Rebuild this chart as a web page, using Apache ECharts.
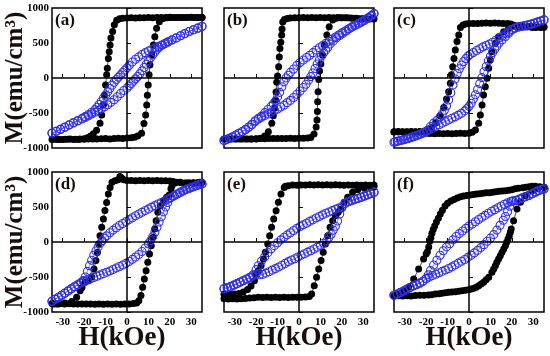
<!DOCTYPE html>
<html><head><meta charset="utf-8">
<script src="https://cdn.jsdelivr.net/npm/echarts@6/dist/echarts.min.js"></script>
<style>html,body{margin:0;padding:0;background:#fff}#c{width:550px;height:356px}</style>
</head><body><div id="c"></div><script>
// ---- data (H in kOe, M in emu/cm3) ----
const H_TICKS = [-30,-20,-10,0,10,20,30];
const PANEL_LABELS = ['(a)','(b)','(c)','(d)','(e)','(f)'];
const Y_TITLE = 'M(emu/cm³)';
const X_TITLE = 'H(kOe)';

const A_BLACK_DOWN = [[35,865],[32.5,865],[30,868],[27.5,865],[25,866],[22.5,864],[20,868],[18,866],[16,864],[14,866],[12,862],[10,864],[8,860],[6,862],[4,858],[2,860],[0,858],[-2,852],[-3.5,845],[-4.8,825],[-5.9,760],[-6.7,665],[-7.5,570],[-7.9,470],[-8.3,375],[-8.7,280],[-9.2,140],[-9.5,45],[-10,-100],[-10.6,-245],[-11,-385],[-11.8,-530],[-12.6,-645],[-14.2,-745],[-15.7,-795],[-17,-830],[-18.5,-855],[-20,-868],[-22,-872],[-24,-875],[-26.5,-872],[-29,-875],[-31.5,-878],[-34,-875]];
const A_BLACK_UP = [[-35,-880],[-32.5,-878],[-30,-880],[-27.5,-876],[-25,-880],[-22.5,-878],[-20,-876],[-18,-872],[-16,-870],[-14,-872],[-12,-868],[-10,-866],[-8,-870],[-6,-864],[-4,-862],[-2,-864],[0,-858],[2,-852],[3.5,-845],[5,-830],[6.8,-790],[7.9,-650],[8.7,-530],[9.2,-385],[9.5,-245],[9.9,-100],[10.3,45],[10.7,185],[11.5,330],[12.3,470],[13,590],[13.8,710],[15.1,805],[17,850],[19,860],[21,864],[23.5,866],[26,864],[28.5,866],[31,864],[33.5,866],[35,864]];
const A_BLUE_DOWN = [[35,735],[33,712],[31,690],[29,665],[27,635],[25,603],[23,572],[21,542],[19,512],[17.5,488],[16,468],[14.5,448],[13,428],[11.5,408],[10,386],[8.5,362],[7,335],[5.5,302],[4,268],[2.5,228],[1,180],[0,145],[-1,112],[-2,78],[-3,45],[-4,12],[-5,-22],[-6,-60],[-7,-102],[-8,-150],[-9,-198],[-10,-245],[-11,-290],[-12,-335],[-13,-378],[-14,-418],[-15,-452],[-16.5,-490],[-18,-522],[-19.5,-550],[-21,-577],[-23,-607],[-25,-637],[-27,-668],[-29,-700],[-31,-730],[-33,-758],[-35,-785]];
const A_BLUE_UP = [[-35,-790],[-33,-765],[-31,-735],[-29,-705],[-27,-673],[-25,-643],[-23,-613],[-21,-585],[-19.5,-563],[-18,-540],[-16.5,-515],[-15,-490],[-13.5,-465],[-12,-440],[-10.5,-412],[-9,-382],[-7.5,-348],[-6,-310],[-4.5,-268],[-3,-222],[-1.5,-178],[0,-145],[1,-112],[2,-78],[3,-45],[4,-12],[5,22],[6,60],[7,102],[8,150],[9,198],[10,245],[11,290],[12,333],[13,372],[14,410],[15,440],[16.5,472],[18,498],[19.5,522],[21,545],[23,573],[25,603],[27,633],[29,664],[31,690],[33,712],[35,738]];

const B_BLACK_DOWN = [[35,842],[32.5,838],[30,845],[27.5,850],[25,855],[22.5,860],[20,862],[18,864],[16,862],[14,865],[12,862],[10,864],[8,862],[6,865],[4,862],[2,864],[0,862],[-2,860],[-4,858],[-5.5,850],[-6.8,835],[-7.6,800],[-7.9,700],[-8.1,614],[-8.5,510],[-8.9,420],[-9.2,300],[-9.5,160],[-10,30],[-10.4,-60],[-10.7,-200],[-11,-315],[-11.4,-433],[-12,-540],[-12.7,-648],[-14.3,-768],[-16,-830],[-18,-860],[-20,-870],[-22,-872],[-24,-870],[-26.5,-872],[-29,-870],[-31.5,-872],[-34,-870]];
const B_BLACK_UP = [[-35,-872],[-32.5,-870],[-30,-872],[-27.5,-870],[-25,-872],[-22.5,-870],[-20,-868],[-18,-866],[-16,-868],[-14,-865],[-12,-866],[-10,-864],[-8,-866],[-6,-864],[-4,-862],[-2,-864],[0,-862],[2,-860],[4,-858],[5.5,-850],[7,-800],[8,-700],[8.4,-600],[8.6,-480],[8.7,-340],[8.9,-195],[9.2,-20],[9.6,100],[10.2,200],[11,330],[11.8,470],[13,614],[14.1,733],[15.7,829],[17.5,852],[19.5,860],[21.5,862],[24,858],[26.5,852],[29,848],[31.5,842],[34,845]];
const B_BLUE_DOWN = [[35,920],[33.5,885],[32,852],[30.5,822],[29,795],[27.5,772],[26,748],[24.5,724],[23,700],[21.5,672],[20,645],[18.5,615],[17,585],[15.5,555],[14,525],[12.5,495],[11,462],[9.5,432],[8,400],[6.5,362],[5,325],[3.5,292],[2,258],[0.5,222],[-1,180],[-2.5,128],[-4,80],[-5,40],[-6,0],[-7,-55],[-8,-125],[-9,-205],[-10,-270],[-11,-330],[-12,-370],[-13,-405],[-14.5,-450],[-16,-495],[-17.5,-545],[-19,-575],[-20.5,-610],[-22,-660],[-23.5,-700],[-25,-735],[-26.5,-765],[-28,-790],[-29.5,-815],[-31,-840],[-32.5,-860],[-34,-880],[-35,-890]];
const B_BLUE_UP = [[-35,-895],[-34,-882],[-32.5,-862],[-31,-842],[-29.5,-818],[-28,-793],[-26.5,-768],[-25,-738],[-23.5,-705],[-22,-668],[-20.5,-625],[-19,-590],[-17.5,-562],[-16,-535],[-14.5,-515],[-13,-492],[-11.5,-468],[-10,-443],[-8.5,-415],[-7,-388],[-5.5,-352],[-4,-320],[-2.5,-278],[-1,-232],[0.5,-185],[2,-135],[3.3,-90],[4.5,-30],[5.5,20],[6.5,72],[7.5,135],[8.5,200],[9.5,257],[10.5,315],[11.5,360],[12.5,398],[13.5,440],[14.5,485],[16,530],[17.5,575],[19,608],[20.5,640],[22,672],[23.5,705],[25,735],[26.5,760],[28,785],[29.5,812],[31,838],[32.5,865],[34,895],[35,920]];

const C_BLACK_DOWN = [[35,725],[33,730],[31,722],[29,735],[27,728],[25,738],[23,742],[21,755],[19.5,770],[18,778],[16,780],[14,782],[12,785],[10,782],[8,785],[6,782],[4,780],[2,780],[0,778],[-1.5,772],[-2.8,758],[-4,720],[-4.8,615],[-5.6,520],[-6.4,400],[-7,280],[-7.6,160],[-8.2,45],[-8.7,-75],[-9.5,-195],[-10.5,-300],[-11.8,-420],[-13.5,-540],[-15.5,-640],[-17.5,-710],[-19.5,-760],[-21,-768],[-23,-765],[-25,-770],[-27,-765],[-29,-770],[-31,-768],[-33,-770],[-35,-768]];
const C_BLACK_UP = [[-35,-770],[-33,-765],[-31,-770],[-29,-768],[-27,-772],[-25,-768],[-23,-770],[-21,-775],[-19.5,-790],[-18,-792],[-16,-795],[-14,-792],[-12,-795],[-10,-792],[-8,-795],[-6,-792],[-4,-790],[-2,-792],[0,-788],[1.5,-775],[3,-742],[4.5,-647],[5.3,-528],[6.1,-385],[6.8,-243],[7.6,-124],[8.4,-5],[9.2,138],[9.9,257],[10.7,376],[12.3,495],[13.8,590],[16.2,662],[18.5,710],[20,748],[21.5,738],[23.5,732],[25.5,728],[27.5,735],[29.5,722],[31.5,730],[33.5,722],[35,728]];
const C_BLUE_DOWN = [[35,830],[33.5,815],[32,798],[30.5,782],[29,768],[27.5,757],[26,747],[24.5,738],[23,728],[21.5,715],[20,695],[18.5,662],[17,630],[15.5,600],[14,570],[12.5,540],[11,510],[9.5,485],[8,465],[6.5,444],[5,418],[3.5,392],[2,365],[0.5,335],[-0.5,312],[-1.5,278],[-2.5,235],[-3.5,185],[-4.5,132],[-5.5,65],[-6.5,-15],[-7.5,-100],[-8.5,-210],[-9.5,-315],[-10.5,-400],[-11.5,-460],[-12.5,-515],[-13.5,-560],[-15,-605],[-16.5,-645],[-18,-695],[-19.5,-750],[-21,-782],[-22.5,-800],[-24,-818],[-25.5,-835],[-27,-850],[-28.5,-865],[-30,-878],[-31.5,-890],[-33,-900],[-34.5,-912]];
const C_BLUE_UP = [[-35,-918],[-33.5,-905],[-32,-892],[-30.5,-880],[-29,-868],[-27.5,-855],[-26,-838],[-24.5,-822],[-23,-805],[-21.5,-785],[-20,-762],[-18.5,-735],[-17,-715],[-15.5,-690],[-14,-668],[-12.5,-645],[-11,-623],[-9.5,-600],[-8,-576],[-6.5,-555],[-5,-530],[-3.5,-505],[-2,-470],[-1,-440],[0,-405],[1,-360],[2,-300],[3,-240],[4,-165],[5,-80],[6,5],[7,90],[8,165],[9,245],[10,310],[11,365],[12,410],[13,455],[14,500],[15.5,545],[17,592],[18.5,638],[20,685],[21.5,712],[23,728],[24.5,740],[26,750],[27.5,760],[29,772],[30.5,785],[32,800],[33.5,815],[35,832]];

const D_BLACK_DOWN = [[35,855],[33,850],[31,845],[29,848],[27,843],[25,850],[23,855],[21.5,865],[20,872],[18,876],[16,876],[14,878],[12,876],[10,878],[8,876],[6,878],[4,876],[2,878],[0,880],[-1.5,888],[-2.5,915],[-3.3,935],[-4.2,890],[-5.6,875],[-7,855],[-7.9,780],[-8.7,685],[-9.5,565],[-10.3,450],[-11,330],[-11.8,210],[-12.6,90],[-13.2,-30],[-13.8,-150],[-14.5,-265],[-15.4,-385],[-16.5,-500],[-18,-555],[-19.6,-576],[-21,-650],[-21.9,-695],[-23.5,-790],[-25.8,-850],[-28.9,-870],[-32,-885],[-34.4,-885]];
const D_BLACK_UP = [[-35,-880],[-33,-885],[-31,-880],[-29,-886],[-27,-882],[-25,-886],[-23,-884],[-21,-886],[-19,-884],[-17,-886],[-15,-888],[-13,-886],[-11,-888],[-9,-886],[-7,-888],[-5,-886],[-3,-888],[-1,-886],[1,-884],[3,-880],[4.5,-870],[5.5,-838],[6.5,-766],[7.3,-647],[8.1,-528],[8.9,-409],[9.7,-290],[10.5,-171],[11.3,-52],[12.1,67],[12.9,186],[13.6,305],[14.4,424],[15.6,519],[17,590],[18.5,638],[19.7,671],[20.5,760],[21,805],[22.4,843],[24.7,852],[27.8,843],[30.9,843],[34,852]];
const D_BLUE_DOWN = [[35,830],[34,820],[32.5,805],[31,790],[29.5,772],[28,755],[26.5,735],[25,712],[23.5,690],[22,662],[20.5,635],[19,610],[17.5,585],[16,562],[14.5,542],[13,520],[11.5,498],[10,473],[8.5,450],[7,426],[5.5,400],[4,374],[2.5,347],[1,320],[-0.5,293],[-2,265],[-3.5,235],[-5,203],[-6.5,170],[-8,132],[-9.5,88],[-10.5,55],[-11.5,20],[-12.5,-20],[-13.5,-70],[-14.5,-128],[-15.5,-190],[-16.5,-260],[-17.5,-338],[-18.5,-420],[-19.5,-500],[-20.4,-550],[-21.5,-578],[-23,-610],[-24.5,-638],[-26,-668],[-27.5,-698],[-29,-728],[-30.5,-760],[-32,-790],[-33.5,-815],[-35,-845]];
const D_BLUE_UP = [[-35,-850],[-33.5,-818],[-32,-792],[-30.5,-762],[-29,-732],[-27.5,-700],[-26,-670],[-24.5,-640],[-23,-612],[-21.5,-585],[-20,-562],[-18.5,-542],[-17,-524],[-15.5,-506],[-14,-488],[-12.5,-470],[-11,-452],[-9.5,-433],[-8,-414],[-6.5,-393],[-5,-372],[-3.5,-350],[-2,-328],[-0.5,-305],[1,-278],[2.5,-248],[4,-215],[5.5,-178],[7,-135],[8.5,-85],[10,-25],[11,20],[12,75],[13,140],[14,210],[15,285],[16,360],[17,430],[18,500],[19,565],[20,625],[21.5,652],[23,678],[24.5,702],[26,727],[27.5,750],[29,768],[30.5,786],[32,802],[33.5,817],[35,832]];

const E_BLACK_DOWN = [[35,815],[33,812],[31,815],[29,812],[27,815],[25,812],[23,815],[21,812],[19,815],[17,818],[15,815],[13,818],[11,815],[9,818],[7,815],[5,818],[3,815],[1,815],[-1,812],[-3,815],[-5,805],[-6.3,795],[-6.9,780],[-8.4,686],[-9.6,567],[-10.7,448],[-11.8,329],[-12.8,210],[-13.7,90],[-14.6,-29],[-15.7,-147],[-16.6,-243],[-17.7,-338],[-19,-409],[-20.1,-457],[-20.8,-552],[-22.4,-630],[-24,-680],[-26,-715],[-28,-735],[-30,-742],[-32,-745],[-34,-742],[-35,-745]];
const E_BLACK_UP = [[-35,-812],[-33,-815],[-31,-812],[-29,-815],[-27,-812],[-25,-808],[-23,-800],[-21,-795],[-19,-790],[-17,-792],[-15,-790],[-13,-792],[-11,-790],[-9,-792],[-7,-790],[-5,-792],[-3,-790],[-1,-788],[1,-790],[3,-785],[4.8,-780],[5.9,-742],[7.1,-624],[8.2,-504],[9.2,-385],[10.3,-266],[11.3,-147],[12.3,-29],[13.4,90],[14.5,210],[15.7,305],[17,376],[18.3,424],[19.6,471],[21.1,567],[22.7,638],[25,710],[27.4,748],[30.5,767],[33.6,781],[35,785]];
const E_BLUE_DOWN = [[35,712],[33.5,690],[32,672],[30.5,655],[29,638],[27.5,622],[26,606],[24.5,590],[23,575],[21.5,552],[20,508],[18.5,486],[17,467],[15.5,448],[14,428],[12.5,410],[11,388],[9.5,365],[8,342],[6.5,318],[5,295],[3.5,268],[2,245],[0.5,222],[-1,195],[-2.5,165],[-4,132],[-5.5,102],[-7,68],[-8.5,30],[-10,-10],[-11.5,-52],[-13,-98],[-14.5,-152],[-16,-210],[-17.5,-272],[-19,-340],[-20,-395],[-21.5,-470],[-23,-505],[-24.5,-528],[-26,-550],[-27.5,-572],[-29,-595],[-30.5,-615],[-32,-635],[-33.5,-650],[-35,-665]];
const E_BLUE_UP = [[-35,-670],[-33.5,-655],[-32,-638],[-30.5,-618],[-29,-598],[-27.5,-575],[-26,-555],[-24.5,-532],[-23,-510],[-21.5,-485],[-20,-460],[-18.5,-468],[-17,-462],[-15.5,-445],[-14,-425],[-12.5,-402],[-11,-380],[-9.5,-358],[-8,-332],[-6.5,-306],[-5,-280],[-3.5,-258],[-2,-240],[-0.5,-215],[1,-190],[2.5,-168],[4,-145],[5.5,-124],[7,-100],[8.5,-75],[10,-48],[11.5,-18],[13,20],[14,67],[15,110],[16,170],[17,225],[18,300],[19,400],[20,490],[21.5,548],[23,578],[24.5,595],[26,610],[27.5,625],[29,640],[30.5,658],[32,675],[33.5,692],[35,712]];

const F_BLACK_DOWN = [[35,781],[33,790],[31,795],[29.5,795],[28,790],[26.5,781],[25,775],[23,768],[21.5,760],[20,748],[18.5,740],[17,733],[15.5,728],[14,724],[12.5,718],[11,710],[9.5,705],[8,702],[6.5,696],[5,688],[3.5,684],[2,678],[0.5,672],[-1,666],[-2.5,658],[-4,645],[-5.5,628],[-7,607],[-8.5,585],[-10,555],[-11.2,515],[-12.4,455],[-13.4,400],[-14.3,340],[-15.2,285],[-16,230],[-16.7,180],[-17.3,125],[-17.8,60],[-18.3,10],[-18.8,-70],[-19.4,-140],[-20,-170],[-21.2,-243],[-23.5,-385],[-25.8,-528],[-28.2,-647],[-30.5,-695],[-32.8,-742],[-34.4,-757]];
const F_BLACK_UP = [[-35,-767],[-33,-767],[-31,-770],[-29,-767],[-27,-770],[-25,-765],[-23,-760],[-21,-760],[-19,-757],[-17.5,-752],[-15.7,-742],[-14,-738],[-12.6,-733],[-11,-726],[-9.5,-719],[-8,-714],[-6.4,-709],[-4.8,-702],[-3.3,-695],[-1.7,-688],[-0.2,-681],[1,-672],[2.2,-662],[3.4,-645],[4.5,-624],[5.7,-600],[6.8,-576],[8,-540],[9.2,-504],[10.7,-433],[11.5,-385],[12.3,-338],[13,-290],[13.8,-243],[14.6,-195],[15.4,-147],[16.2,-100],[17,-52],[17.6,-5],[18.2,43],[18.8,90],[19.3,138],[19.7,186],[20.8,305],[22.4,471],[24,567],[26.3,662],[29.4,733],[32,767],[35,781]];
const F_BLUE_DOWN = [[35,757],[34,750],[32.5,733],[31,712],[29.5,690],[28,665],[26.5,648],[25,630],[23.5,610],[22,592],[20.5,585],[19.5,578],[18,560],[16.5,540],[15,515],[13.5,490],[12,462],[10.5,440],[9,410],[7.5,380],[6,352],[4.5,322],[3,290],[1.5,257],[0,228],[-1.5,195],[-3,158],[-4.5,120],[-6,78],[-7.5,30],[-9,-25],[-10.5,-70],[-12,-125],[-13.5,-190],[-15,-260],[-16.5,-328],[-18,-409],[-19,-470],[-20,-520],[-21.5,-560],[-23,-585],[-24.5,-608],[-26,-625],[-27.5,-648],[-29,-672],[-30.5,-698],[-32,-720],[-33.5,-742],[-35,-760]];
const F_BLUE_UP = [[-35,-762],[-33.5,-745],[-32,-722],[-30.5,-700],[-29,-675],[-27.5,-650],[-26,-628],[-24.5,-610],[-23,-588],[-21.5,-562],[-20,-525],[-18.5,-500],[-17,-478],[-15.5,-460],[-14,-440],[-12.5,-420],[-11,-400],[-9.5,-378],[-8,-355],[-6.5,-328],[-5,-302],[-3.5,-275],[-2,-250],[-0.5,-220],[1,-188],[2.5,-155],[4,-120],[5.5,-80],[7,-38],[8.5,10],[10,55],[11.5,105],[13,170],[14.5,238],[16,310],[17,365],[18,433],[19,510],[19.7,576],[20.5,588],[22,595],[23.5,612],[25,632],[26.5,650],[28,668],[29.5,692],[31,714],[32.5,735],[34,752],[35,760]];

// ---- layout ----
const FONT = '"Liberation Serif","Times New Roman",serif';
const INK = '#1a0c0c';
const BLUE = '#2f2fe6';
const LEFTS = [52,224,394], TOPS = [8,172], GW = 150, GH = 140;

const LOOPS = [
  [A_BLACK_DOWN.concat(A_BLACK_UP), A_BLUE_DOWN.concat(A_BLUE_UP)],
  [B_BLACK_DOWN.concat(B_BLACK_UP), B_BLUE_DOWN.concat(B_BLUE_UP)],
  [C_BLACK_DOWN.concat(C_BLACK_UP), C_BLUE_DOWN.concat(C_BLUE_UP)],
  [D_BLACK_DOWN.concat(D_BLACK_UP), D_BLUE_DOWN.concat(D_BLUE_UP)],
  [E_BLACK_DOWN.concat(E_BLACK_UP), E_BLUE_DOWN.concat(E_BLUE_UP)],
  [F_BLACK_DOWN.concat(F_BLACK_UP), F_BLUE_DOWN.concat(F_BLUE_UP)]
];

const grid = [], xAxis = [], yAxis = [], series = [], graphic = [];
LOOPS.forEach((loop, i) => {
  const col = i % 3, row = Math.floor(i / 3);
  grid.push({left: LEFTS[col], top: TOPS[row], width: GW, height: GH, show: true,
    borderColor: '#000', borderWidth: 1.5, backgroundColor: 'transparent'});
  xAxis.push({gridIndex: i, type: 'value', min: -35, max: 35,
    axisLine: {show: false}, splitLine: {show: false},
    axisTick: {show: true, inside: true, length: 4, customValues: H_TICKS, lineStyle: {color: '#000', width: 1}},
    axisLabel: {show: row === 1, customValues: H_TICKS, margin: 5, formatter: v => String(v),
      fontFamily: FONT, fontWeight: 'bold', fontSize: 11, color: '#000'}});
  yAxis.push({gridIndex: i, type: 'value', min: -1000, max: 1000, interval: 500,
    axisLine: {show: false}, splitLine: {show: false},
    axisTick: {show: true, inside: true, length: 4, lineStyle: {color: '#000', width: 1}},
    axisLabel: {show: col === 0, margin: 3, formatter: v => String(v),
      fontFamily: FONT, fontWeight: 'bold', fontSize: 11, color: '#000'}});
  series.push({type: 'line', xAxisIndex: i, yAxisIndex: i, data: loop[0],
    symbol: 'circle', symbolSize: 7, itemStyle: {color: '#000'},
    lineStyle: {color: '#000', width: 0.7}, animation: false,
    markLine: {silent: true, symbol: 'none', label: {show: false}, animation: false,
      lineStyle: {color: '#000', width: 1.5, type: 'solid'},
      data: [{xAxis: 0}, {yAxis: 0}]}});
  series.push({type: 'line', xAxisIndex: i, yAxisIndex: i, data: loop[1],
    symbol: 'circle', symbolSize: 8,
    itemStyle: {color: 'rgba(255,255,255,0)', borderColor: BLUE, borderWidth: 1.1},
    lineStyle: {color: BLUE, width: 0.6}, animation: false});
  graphic.push({type: 'text', x: LEFTS[col] + 3, y: TOPS[row] + 13,
    style: {text: PANEL_LABELS[i], fontFamily: FONT, fontWeight: 'bold', fontSize: 17,
      fill: INK, align: 'left', verticalAlign: 'middle'}});
  if (row === 1) {
    graphic.push({type: 'text', x: LEFTS[col] + GW / 2 - (col === 0 ? 5 : 0), y: 338,
      style: {text: X_TITLE, fontFamily: FONT, fontWeight: 'bold', fontSize: 27,
        fill: INK, align: 'center', verticalAlign: 'middle'}});
  }
});
TOPS.forEach(t => {
  graphic.push({type: 'text', x: 16, y: t + GH / 2, rotation: Math.PI / 2,
    style: {text: Y_TITLE, fontFamily: FONT, fontWeight: 'bold', fontSize: 25,
      fill: INK, align: 'center', verticalAlign: 'middle'}});
});

const chart = echarts.init(document.getElementById('c'), null, {renderer: 'canvas'});
chart.setOption({animation: false, backgroundColor: '#fff', grid, xAxis, yAxis, series, graphic});
</script></body></html>
